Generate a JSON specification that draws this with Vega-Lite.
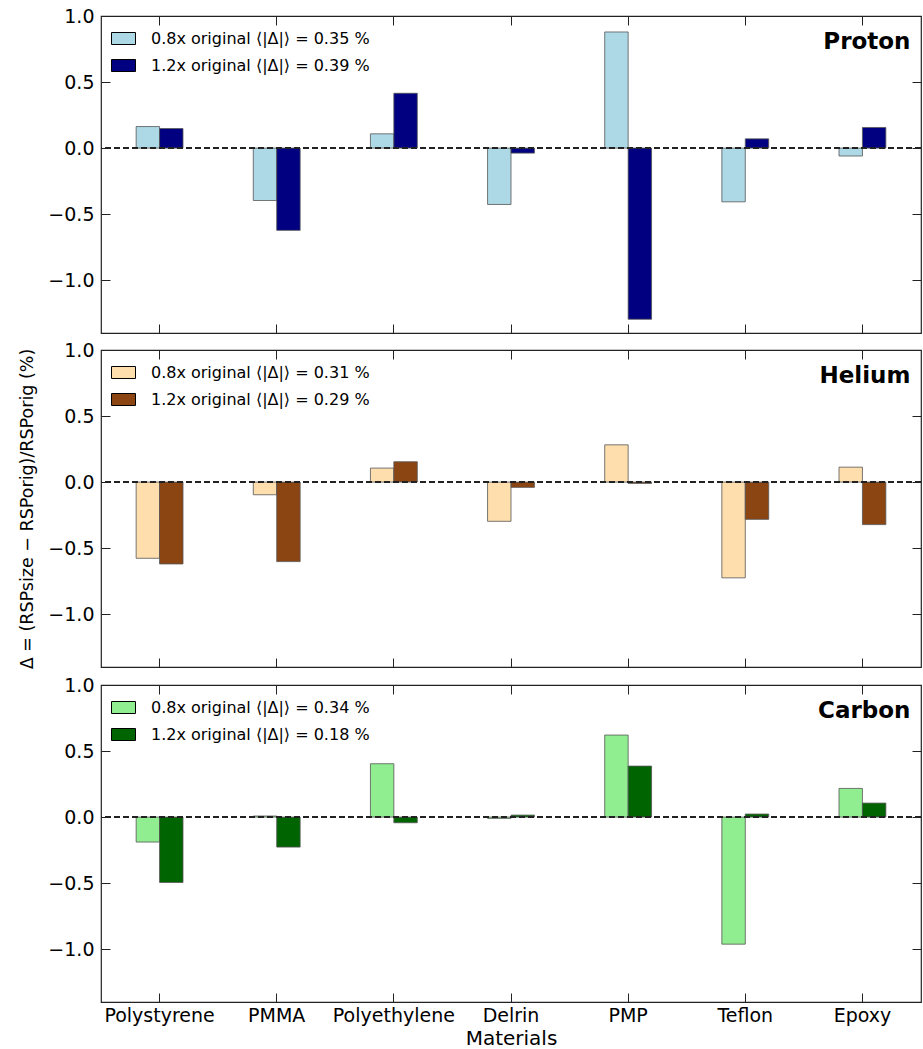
{
  "$schema": "https://vega.github.io/schema/vega-lite/v6.json",
  "padding": {"left": 18, "top": 6, "right": 0, "bottom": 0},
  "spacing": 5,
  "config": {
    "font": "DejaVu Sans",
    "view": {"stroke": "#222", "strokeWidth": 1.2},
    "axis": {"domain": false, "grid": false, "tickColor": "#222", "tickSize": -9, "tickWidth": 1, "labelFont": "DejaVu Sans", "labelFontSize": 19, "labelColor": "black", "titleFont": "DejaVu Sans", "titleFontWeight": "normal", "titleColor": "black", "labelPadding": 16},
    "legend": {"orient": "top-left", "offset": 10, "title": null, "symbolType": "M-1,-0.5H1V0.5H-1Z", "symbolSize": 576, "symbolStrokeColor": "black", "symbolStrokeWidth": 1, "symbolOpacity": 1, "labelFont": "DejaVu Sans", "labelFontSize": 16, "labelColor": "black", "labelOffset": 15, "labelLimit": 0, "rowPadding": 6, "padding": 0}
  },
  "datasets": {
    "d": [
      {"ion": "Proton", "material": "Polystyrene", "series": "0.8x", "value": 0.163},
      {"ion": "Proton", "material": "Polystyrene", "series": "1.2x", "value": 0.148},
      {"ion": "Proton", "material": "PMMA", "series": "0.8x", "value": -0.397},
      {"ion": "Proton", "material": "PMMA", "series": "1.2x", "value": -0.623},
      {"ion": "Proton", "material": "Polyethylene", "series": "0.8x", "value": 0.108},
      {"ion": "Proton", "material": "Polyethylene", "series": "1.2x", "value": 0.415},
      {"ion": "Proton", "material": "Delrin", "series": "0.8x", "value": -0.427},
      {"ion": "Proton", "material": "Delrin", "series": "1.2x", "value": -0.038},
      {"ion": "Proton", "material": "PMP", "series": "0.8x", "value": 0.879},
      {"ion": "Proton", "material": "PMP", "series": "1.2x", "value": -1.296},
      {"ion": "Proton", "material": "Teflon", "series": "0.8x", "value": -0.407},
      {"ion": "Proton", "material": "Teflon", "series": "1.2x", "value": 0.070},
      {"ion": "Proton", "material": "Epoxy", "series": "0.8x", "value": -0.060},
      {"ion": "Proton", "material": "Epoxy", "series": "1.2x", "value": 0.156},
      {"ion": "Helium", "material": "Polystyrene", "series": "0.8x", "value": -0.577},
      {"ion": "Helium", "material": "Polystyrene", "series": "1.2x", "value": -0.620},
      {"ion": "Helium", "material": "PMMA", "series": "0.8x", "value": -0.096},
      {"ion": "Helium", "material": "PMMA", "series": "1.2x", "value": -0.602},
      {"ion": "Helium", "material": "Polyethylene", "series": "0.8x", "value": 0.106},
      {"ion": "Helium", "material": "Polyethylene", "series": "1.2x", "value": 0.154},
      {"ion": "Helium", "material": "Delrin", "series": "0.8x", "value": -0.297},
      {"ion": "Helium", "material": "Delrin", "series": "1.2x", "value": -0.040},
      {"ion": "Helium", "material": "PMP", "series": "0.8x", "value": 0.282},
      {"ion": "Helium", "material": "PMP", "series": "1.2x", "value": -0.010},
      {"ion": "Helium", "material": "Teflon", "series": "0.8x", "value": -0.725},
      {"ion": "Helium", "material": "Teflon", "series": "1.2x", "value": -0.282},
      {"ion": "Helium", "material": "Epoxy", "series": "0.8x", "value": 0.113},
      {"ion": "Helium", "material": "Epoxy", "series": "1.2x", "value": -0.322},
      {"ion": "Carbon", "material": "Polystyrene", "series": "0.8x", "value": -0.189},
      {"ion": "Carbon", "material": "Polystyrene", "series": "1.2x", "value": -0.495},
      {"ion": "Carbon", "material": "PMMA", "series": "0.8x", "value": 0.008},
      {"ion": "Carbon", "material": "PMMA", "series": "1.2x", "value": -0.227},
      {"ion": "Carbon", "material": "Polyethylene", "series": "0.8x", "value": 0.404},
      {"ion": "Carbon", "material": "Polyethylene", "series": "1.2x", "value": -0.043},
      {"ion": "Carbon", "material": "Delrin", "series": "0.8x", "value": -0.010},
      {"ion": "Carbon", "material": "Delrin", "series": "1.2x", "value": 0.015},
      {"ion": "Carbon", "material": "PMP", "series": "0.8x", "value": 0.621},
      {"ion": "Carbon", "material": "PMP", "series": "1.2x", "value": 0.386},
      {"ion": "Carbon", "material": "Teflon", "series": "0.8x", "value": -0.962},
      {"ion": "Carbon", "material": "Teflon", "series": "1.2x", "value": 0.023},
      {"ion": "Carbon", "material": "Epoxy", "series": "0.8x", "value": 0.217},
      {"ion": "Carbon", "material": "Epoxy", "series": "1.2x", "value": 0.106}
    ]
  },
  "resolve": {"scale": {"fill": "independent"}, "legend": {"fill": "independent"}},
  "vconcat": [
    {
      "width": 820, "height": 317,
      "data": {"name": "d"},
      "transform": [{"filter": "datum.ion === 'Proton'"}],
      "layer": [
        {
          "mark": {"type": "bar", "stroke": "#555", "strokeWidth": 0.8},
          "encoding": {
            "x": {"field": "material", "type": "nominal", "scale": {"domain": ["Polystyrene", "PMMA", "Polyethylene", "Delrin", "PMP", "Teflon", "Epoxy"], "paddingInner": 0, "paddingOuter": 0}, "axis": {"orient": "bottom", "labels": false, "title": null}},
            "xOffset": {"field": "series", "type": "nominal", "scale": {"domain": ["padL", "0.8x", "1.2x", "padR"], "paddingOuter": 0.5, "paddingInner": 0}},
            "y": {"field": "value", "type": "quantitative", "scale": {"domain": [-1.4, 1.0], "nice": false, "zero": false}, "axis": {"values": [-1, -0.5, 0, 0.5, 1], "format": ".1f", "title": null}},
            "fill": {"field": "series", "type": "nominal", "scale": {"domain": ["0.8x", "1.2x"], "range": ["#ADD8E6", "#000080"]}, "legend": {"labelExpr": "datum.label === '0.8x' ? '0.8x original ⟨|Δ|⟩ = 0.35 %' : '1.2x original ⟨|Δ|⟩ = 0.39 %'"}}
          }
        },
        {
          "mark": {"type": "rule", "strokeDash": [6, 3], "color": "#222", "strokeWidth": 1.3},
          "encoding": {"y": {"datum": 0, "type": "quantitative", "axis": null}}
        },
        {
          "mark": {"type": "point", "opacity": 0},
          "encoding": {
            "x": {"field": "material", "type": "nominal", "axis": {"orient": "top", "labels": false, "title": null}},
            "y": {"field": "value", "type": "quantitative", "axis": {"orient": "right", "labels": false, "title": null, "values": [-1, -0.5, 0, 0.5, 1]}}
          }
        },
        {
          "data": {"values": [{"label": "Proton"}]},
          "mark": {"type": "text", "fontSize": 23, "fontWeight": "bold", "align": "right", "baseline": "alphabetic", "color": "black"},
          "encoding": {
            "text": {"field": "label"},
            "x": {"datum": "Epoxy", "type": "nominal", "bandPosition": 0.91, "axis": null},
            "y": {"datum": 0.75, "type": "quantitative", "axis": null}
          }
        }
      ],
      "resolve": {"axis": {"x": "independent", "y": "independent"}}
    },
    {
      "width": 820, "height": 317,
      "data": {"name": "d"},
      "transform": [{"filter": "datum.ion === 'Helium'"}],
      "layer": [
        {
          "mark": {"type": "bar", "stroke": "#555", "strokeWidth": 0.8},
          "encoding": {
            "x": {"field": "material", "type": "nominal", "scale": {"domain": ["Polystyrene", "PMMA", "Polyethylene", "Delrin", "PMP", "Teflon", "Epoxy"], "paddingInner": 0, "paddingOuter": 0}, "axis": {"orient": "bottom", "labels": false, "title": null}},
            "xOffset": {"field": "series", "type": "nominal", "scale": {"domain": ["padL", "0.8x", "1.2x", "padR"], "paddingOuter": 0.5, "paddingInner": 0}},
            "y": {"field": "value", "type": "quantitative", "scale": {"domain": [-1.4, 1.0], "nice": false, "zero": false}, "axis": {"values": [-1, -0.5, 0, 0.5, 1], "format": ".1f", "title": "Δ = (RSPsize − RSPorig)/RSPorig (%)", "titleFontSize": 17.5, "titlePadding": 11}},
            "fill": {"field": "series", "type": "nominal", "scale": {"domain": ["0.8x", "1.2x"], "range": ["#FFDEAD", "#8B4513"]}, "legend": {"labelExpr": "datum.label === '0.8x' ? '0.8x original ⟨|Δ|⟩ = 0.31 %' : '1.2x original ⟨|Δ|⟩ = 0.29 %'"}}
          }
        },
        {
          "mark": {"type": "rule", "strokeDash": [6, 3], "color": "#222", "strokeWidth": 1.3},
          "encoding": {"y": {"datum": 0, "type": "quantitative", "axis": null}}
        },
        {
          "mark": {"type": "point", "opacity": 0},
          "encoding": {
            "x": {"field": "material", "type": "nominal", "axis": {"orient": "top", "labels": false, "title": null}},
            "y": {"field": "value", "type": "quantitative", "axis": {"orient": "right", "labels": false, "title": null, "values": [-1, -0.5, 0, 0.5, 1]}}
          }
        },
        {
          "data": {"values": [{"label": "Helium"}]},
          "mark": {"type": "text", "fontSize": 23, "fontWeight": "bold", "align": "right", "baseline": "alphabetic", "color": "black"},
          "encoding": {
            "text": {"field": "label"},
            "x": {"datum": "Epoxy", "type": "nominal", "bandPosition": 0.91, "axis": null},
            "y": {"datum": 0.75, "type": "quantitative", "axis": null}
          }
        }
      ],
      "resolve": {"axis": {"x": "independent", "y": "independent"}}
    },
    {
      "width": 820, "height": 317,
      "data": {"name": "d"},
      "transform": [{"filter": "datum.ion === 'Carbon'"}],
      "layer": [
        {
          "mark": {"type": "bar", "stroke": "#555", "strokeWidth": 0.8},
          "encoding": {
            "x": {"field": "material", "type": "nominal", "scale": {"domain": ["Polystyrene", "PMMA", "Polyethylene", "Delrin", "PMP", "Teflon", "Epoxy"], "paddingInner": 0, "paddingOuter": 0}, "axis": {"orient": "bottom", "labels": true, "labelAngle": 0, "labelPadding": 13, "title": "Materials", "titleFontSize": 20, "titlePadding": 3}},
            "xOffset": {"field": "series", "type": "nominal", "scale": {"domain": ["padL", "0.8x", "1.2x", "padR"], "paddingOuter": 0.5, "paddingInner": 0}},
            "y": {"field": "value", "type": "quantitative", "scale": {"domain": [-1.4, 1.0], "nice": false, "zero": false}, "axis": {"values": [-1, -0.5, 0, 0.5, 1], "format": ".1f", "title": null}},
            "fill": {"field": "series", "type": "nominal", "scale": {"domain": ["0.8x", "1.2x"], "range": ["#90EE90", "#006400"]}, "legend": {"labelExpr": "datum.label === '0.8x' ? '0.8x original ⟨|Δ|⟩ = 0.34 %' : '1.2x original ⟨|Δ|⟩ = 0.18 %'"}}
          }
        },
        {
          "mark": {"type": "rule", "strokeDash": [6, 3], "color": "#222", "strokeWidth": 1.3},
          "encoding": {"y": {"datum": 0, "type": "quantitative", "axis": null}}
        },
        {
          "mark": {"type": "point", "opacity": 0},
          "encoding": {
            "x": {"field": "material", "type": "nominal", "axis": {"orient": "top", "labels": false, "title": null}},
            "y": {"field": "value", "type": "quantitative", "axis": {"orient": "right", "labels": false, "title": null, "values": [-1, -0.5, 0, 0.5, 1]}}
          }
        },
        {
          "data": {"values": [{"label": "Carbon"}]},
          "mark": {"type": "text", "fontSize": 23, "fontWeight": "bold", "align": "right", "baseline": "alphabetic", "color": "black"},
          "encoding": {
            "text": {"field": "label"},
            "x": {"datum": "Epoxy", "type": "nominal", "bandPosition": 0.91, "axis": null},
            "y": {"datum": 0.75, "type": "quantitative", "axis": null}
          }
        }
      ],
      "resolve": {"axis": {"x": "independent", "y": "independent"}}
    }
  ]
}
